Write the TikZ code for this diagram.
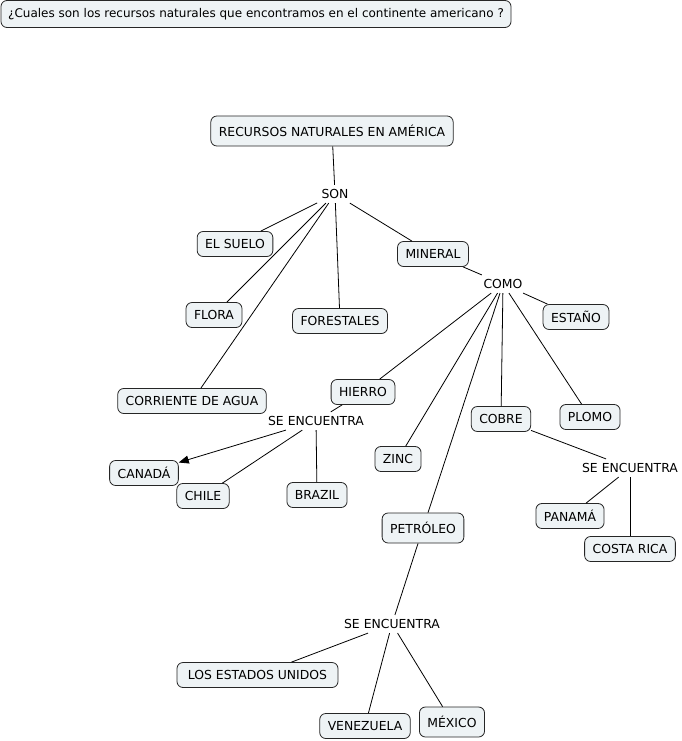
\documentclass[tikz,border=0pt]{standalone}
\usepackage{fontspec}
\setmainfont{DejaVu Sans}
\usetikzlibrary{arrows.meta}
\definecolor{boxfill}{HTML}{EEF3F5}
\begin{document}
\begin{tikzpicture}[x=1pt, y=-1pt, font=\fontsize{12.4}{14}\selectfont,
  box/.style={draw=black!85, fill=boxfill, rounded corners=6pt, line width=0.8pt, minimum height=25pt, inner xsep=8pt},
  tallbox/.style={box, minimum height=30pt},
  link/.style={inner sep=4pt},
  every path/.style={line width=0.8pt}]
\useasboundingbox (0,0) rectangle (681,741);

\node[box, font=\fontsize{12}{14}\selectfont, inner xsep=5pt, minimum width=510pt, minimum height=27pt] (question) at (256,14) {¿Cuales son los recursos naturales que encontramos en el continente americano ?};

\node[tallbox] (rec) at (332,131) {RECURSOS NATURALES EN AMÉRICA};
\node[link] (son) at (335,194) {SON};
\node[box] (suelo) at (235,244) {EL SUELO};
\node[box] (mineral) at (433,254) {MINERAL};
\node[link] (como) at (503,284) {COMO};
\node[box] (flora) at (214,315) {FLORA};
\node[box] (forestales) at (340,321) {FORESTALES};
\node[box] (estano) at (576,317) {ESTAÑO};
\node[box] (agua) at (192,401) {CORRIENTE DE AGUA};
\node[box] (hierro) at (363,392) {HIERRO};
\node[box] (cobre) at (501,419) {COBRE};
\node[box] (plomo) at (590,417) {PLOMO};
\node[box] (zinc) at (398,459) {ZINC};
\node[tallbox] (petroleo) at (423,528) {PETRÓLEO};

\node[link] (seA) at (316,421) {SE ENCUENTRA};
\node[box] (canada) at (144,473) {CANADÁ};
\node[box] (chile) at (203,496) {CHILE};
\node[box] (brazil) at (317,495) {BRAZIL};

\node[link] (seB) at (630,468) {SE ENCUENTRA};
\node[box] (panama) at (570,516) {PANAMÁ};
\node[box] (costarica) at (630,549) {COSTA RICA};

\node[link] (seC) at (392,624) {SE ENCUENTRA};
\node[box, minimum width=161pt] (eeuu) at (257.5,675) {LOS ESTADOS UNIDOS\hspace{6pt}};
\node[box] (venezuela) at (365,726) {VENEZUELA};
\node[tallbox] (mexico) at (452,722) {MÉXICO};

\draw (rec) -- (son);
\draw (son) -- (suelo);
\draw (son) -- (flora);
\draw (son) -- (forestales);
\draw (son) -- (agua);
\draw (son) -- (mineral);
\draw (mineral) -- (como);
\draw (como) -- (estano);
\draw (como) -- (hierro);
\draw (como) -- (zinc);
\draw (como) -- (petroleo);
\draw (como) -- (cobre);
\draw (como) -- (plomo);

\draw (hierro) -- (seA);
\draw[-{Triangle[length=10pt,width=8pt]}] (seA) -- (canada);
\draw (seA) -- (chile);
\draw (seA) -- (brazil);

\draw (cobre) -- (seB);
\draw (seB) -- (panama);
\draw (seB) -- (costarica);

\draw (petroleo) -- (seC);
\draw (seC) -- (eeuu);
\draw (seC) -- (venezuela);
\draw (seC) -- (mexico);
\end{tikzpicture}
\end{document}
